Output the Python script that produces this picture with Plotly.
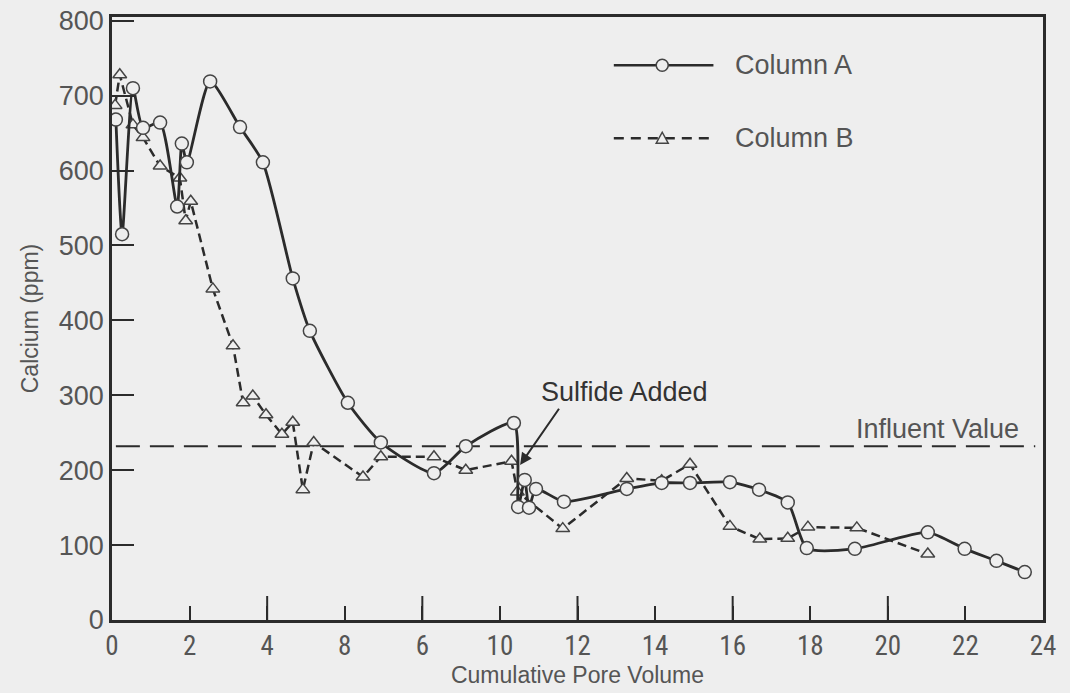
import plotly.graph_objects as go

# Calcium breakthrough data, Column A (circles) and Column B (triangles)
col_a_pv = [0.1, 0.26, 0.54, 0.8, 1.24, 1.68, 1.8, 1.93, 2.53, 3.3, 3.89, 4.66, 5.1,
            6.08, 6.93, 8.3, 9.12, 10.36, 10.47, 10.64, 10.75, 10.93, 11.65, 13.27,
            14.17, 14.9, 15.93, 16.68, 17.42, 17.91, 19.15, 21.03, 21.98, 22.8, 23.53]
col_a_ca = [668, 515, 710, 657, 664, 552, 636, 611, 719, 658, 611, 456, 386,
            290, 237, 196, 232, 263, 151, 187, 150, 175, 158, 175,
            183, 183, 184, 174, 157, 96, 95, 117, 95, 79, 64]

col_b_pv = [0.08, 0.2, 0.54, 0.8, 1.24, 1.75, 1.9, 2.03, 2.6, 3.12, 3.38, 3.63, 3.97,
            4.38, 4.66, 4.92, 5.2, 6.47, 6.93, 8.3, 9.12, 10.3, 10.45, 11.62, 13.27,
            14.17, 14.9, 15.93, 16.7, 17.42, 17.94, 19.2, 21.03]
col_b_ca = [687, 728, 661, 644, 606, 590, 533, 559, 442, 366, 290, 299, 274,
            248, 264, 174, 237, 191, 218, 218, 200, 212, 171, 122, 189,
            186, 208, 125, 108, 109, 124, 123, 88]

influent_value = 232
influent_span = [0.1, 23.8]

x_tick_vals = [0, 2, 4, 6, 8, 10, 12, 14, 16, 18, 20, 22, 24]
x_tick_text = ["0", "2", "4", "8", "6", "10", "12", "14", "16", "18", "20", "22", "24"]
x_long_ticks = [4, 8, 12, 16, 20]
y_tick_vals = [0, 100, 200, 300, 400, 500, 600, 700, 800]

BG = "#eeeeee"
INK = "#2b2b2b"
TXT = "#555555"
NARROW = "Liberation Sans Narrow, Roboto Condensed, Liberation Sans, Arial"
SANS = "Liberation Sans, Arial, Helvetica"

fig = go.Figure()

fig.add_trace(go.Scatter(
    x=influent_span, y=[influent_value, influent_value], mode="lines",
    line=dict(color=INK, width=2, dash="24px,10px"), showlegend=False,
    hoverinfo="skip"))

fig.add_trace(go.Scatter(
    x=col_b_pv, y=col_b_ca, mode="lines+markers", name="Column B",
    line=dict(color=INK, width=2.5, dash="9px,5px"),
    marker=dict(symbol="triangle-up", size=12, color=BG,
                line=dict(color="#444444", width=1.5)),
    showlegend=False))

fig.add_trace(go.Scatter(
    x=col_a_pv, y=col_a_ca, mode="lines+markers", name="Column A",
    line=dict(color=INK, width=2.8, shape="spline", smoothing=0.6),
    marker=dict(symbol="circle", size=13, color=BG,
                line=dict(color="#444444", width=1.5)),
    showlegend=False))

shapes = []
annotations = []

# Longer inside ticks at every fourth pore volume
for xv in x_long_ticks:
    shapes.append(dict(type="line", xref="x", yref="paper", ysizemode="pixel",
                       yanchor=0, x0=xv, x1=xv, y0=0, y1=24,
                       line=dict(color=INK, width=2)))

# Key drawn in paper units in the upper right of the plot
key_rows = [("Column A", 0.920, "solid", "circle"), ("Column B", 0.799, "10px,7px", "triangle")]
for label, yk, dash, sym in key_rows:
    shapes.append(dict(type="line", xref="paper", yref="paper", x0=0.539, x1=0.646,
                       y0=yk, y1=yk, line=dict(color=INK, width=2.5, dash=dash)))
    if sym == "circle":
        shapes.append(dict(type="circle", xref="paper", yref="paper",
                           xsizemode="pixel", ysizemode="pixel", xanchor=0.591, yanchor=yk,
                           x0=-6, x1=6, y0=-6, y1=6, fillcolor=BG,
                           line=dict(color="#444444", width=1.5)))
    else:
        shapes.append(dict(type="path", xref="paper", yref="paper",
                           xsizemode="pixel", ysizemode="pixel", xanchor=0.591, yanchor=yk,
                           path="M-6,-5 L6,-5 L0,6 Z", fillcolor=BG,
                           line=dict(color="#444444", width=1.5)))
    annotations.append(dict(text=label, xref="paper", yref="paper", x=0.667, y=yk,
                            xanchor="left", yanchor="middle", showarrow=False,
                            font=dict(family=SANS, size=27, color=TXT)))

annotations.append(dict(text="Influent Value", x=21.27, y=255, xref="x", yref="y",
                        showarrow=False, font=dict(family=SANS, size=27, color=TXT)))
annotations.append(dict(text="Sulfide Added", x=13.2, y=304, xref="x", yref="y",
                        showarrow=False, font=dict(family=SANS, size=27, color="#333333")))
annotations.append(dict(text="", x=10.52, y=207, ax=11.55, ay=284, xref="x", yref="y",
                        axref="x", ayref="y", showarrow=True, arrowhead=2,
                        arrowsize=1.2, arrowwidth=2, arrowcolor=INK))

fig.update_layout(
    width=1070, height=693,
    margin=dict(l=112, r=27, t=17, b=73),
    paper_bgcolor=BG, plot_bgcolor=BG,
    shapes=shapes, annotations=annotations,
    xaxis=dict(range=[0, 24], tickmode="array", tickvals=x_tick_vals, ticktext=x_tick_text,
               ticks="inside", ticklen=14, tickwidth=2, tickcolor=INK,
               showline=True, linecolor=INK, linewidth=2.5, mirror=True,
               showgrid=False, zeroline=False, automargin=False,
               tickfont=dict(family=NARROW, size=27, color=TXT),
               title=dict(text="Cumulative Pore Volume", standoff=6,
                          font=dict(family=SANS, size=23, color=TXT))),
    yaxis=dict(range=[0, 805], tickmode="array", tickvals=y_tick_vals,
               ticks="inside", ticklen=22, tickwidth=2, tickcolor=INK,
               showline=True, linecolor=INK, linewidth=2.5, mirror=True,
               showgrid=False, zeroline=False, automargin=False,
               tickfont=dict(family=SANS, size=27, color=TXT),
               title=dict(text="Calcium (ppm)", standoff=14,
                          font=dict(family=SANS, size=23, color=TXT))),
)

fig.write_html("out.html")
